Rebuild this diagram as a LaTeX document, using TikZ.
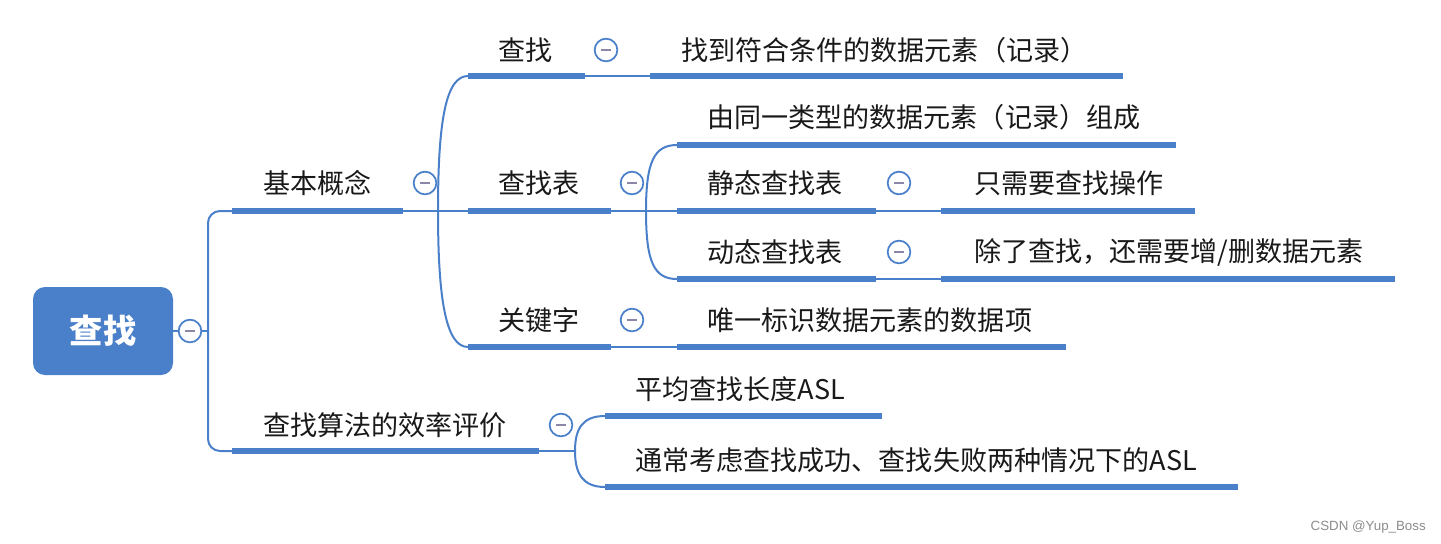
\documentclass[tikz,border=0pt]{standalone}
\usepackage{fontspec}
\setmainfont{Noto Sans CJK SC}
\newfontfamily\cjk{Noto Sans CJK SC}
\newfontfamily\wmfont{Liberation Sans}
\definecolor{mmblue}{HTML}{4A7FC9}
\definecolor{minusc}{HTML}{8C86A8}
\begin{document}
\begin{tikzpicture}[x=0.75pt,y=-0.75pt,
  bar/.style={line width=4pt, draw=mmblue},
  link/.style={line width=1.5pt, draw=mmblue},
  lbl/.style={anchor=west, inner sep=0pt, font=\cjk\fontsize{20.3}{23}\selectfont, text=black!90},
  fold/.style={circle, draw=mmblue, line width=1.3pt, fill=white, minimum size=17pt, inner sep=0pt,
    path picture={\draw[minusc, line width=1pt] ([xshift=-3.5pt]path picture bounding box.center) -- ([xshift=3.5pt]path picture bounding box.center);}},
  rootbox/.style={rectangle, rounded corners=9pt, fill=mmblue, minimum width=105pt, minimum height=66pt,
    text=white, font=\cjk\bfseries\fontsize{25}{28}\selectfont}
]
\useasboundingbox (0,0) rectangle (1441,543);

% root
\node[rootbox] (root) at (103,331) {查找};
\coordinate (tr) at (208,331);

% level 1
\node[lbl] (t1) at (263,183) {基本概念};
\coordinate (b1s) at (232,211); \coordinate (b1e) at (403,211);
\node[lbl] (t2) at (263,425) {查找算法的效率评价};
\coordinate (b2s) at (232,451); \coordinate (b2e) at (539,451);

% level 2 under 基本概念
\node[lbl] (s1) at (498,50) {查找};
\coordinate (s1s) at (468,76); \coordinate (s1e) at (585,76);
\node[lbl] (s2) at (498,183) {查找表};
\coordinate (s2s) at (468,211); \coordinate (s2e) at (611,211);
\node[lbl] (s3) at (498,320) {关键字};
\coordinate (s3s) at (468,347); \coordinate (s3e) at (611,347);
\coordinate (bp1) at (438,211);

% level 3
\node[lbl] (d1) at (681,50) {找到符合条件的数据元素（记录）};
\coordinate (d1s) at (650,76); \coordinate (d1e) at (1123,76);
\node[lbl] (e1) at (707,117) {由同一类型的数据元素（记录）组成};
\coordinate (e1s) at (677,145); \coordinate (e1e) at (1176,145);
\node[lbl] (e2) at (707,183) {静态查找表};
\coordinate (e2s) at (677,211); \coordinate (e2e) at (876,211);
\node[lbl] (e3) at (707,252) {动态查找表};
\coordinate (e3s) at (677,279); \coordinate (e3e) at (876,279);
\coordinate (bp2) at (646,211);
\node[lbl] (g1) at (974,183) {只需要查找操作};
\coordinate (g1s) at (941,211); \coordinate (g1e) at (1195,211);
\node[lbl] (g2) at (974,252) {除了查找，还需要增/删数据元素};
\coordinate (g2s) at (941,279); \coordinate (g2e) at (1395,279);
\node[lbl] (h1) at (707,320) {唯一标识数据元素的数据项};
\coordinate (h1s) at (677,347); \coordinate (h1e) at (1066,347);

% under 效率评价
\node[lbl] (k1) at (635,389) {平均查找长度ASL};
\coordinate (k1s) at (605,416); \coordinate (k1e) at (882,416);
\node[lbl] (k2) at (635,460) {通常考虑查找成功、查找失败两种情况下的ASL};
\coordinate (k2s) at (605,487); \coordinate (k2e) at (1238,487);
\coordinate (bp3) at (575,451);

% thin connectors
\draw[link] (root.east) -- (tr);
\draw[link, rounded corners=9pt] (b1s) -| (tr) |- (b2s);
\draw[link] (b1e) -- (s2s);
\draw[link] (bp1) .. controls (438,120) and (446,76) .. (s1s);
\draw[link] (bp1) .. controls (438,300) and (446,347) .. (s3s);
\draw[link] (s1e) -- (d1s);
\draw[link] (s2e) -- (e2s);
\draw[link] (bp2) .. controls (646,162) and (654,145) .. (e1s);
\draw[link] (bp2) .. controls (646,262) and (654,279) .. (e3s);
\draw[link] (e2e) -- (g1s);
\draw[link] (e3e) -- (g2s);
\draw[link] (s3e) -- (h1s);
\draw[link] (b2e) -- (bp3);
\draw[link] (bp3) .. controls (575,428) and (583,416) .. (k1s);
\draw[link] (bp3) .. controls (575,474) and (583,487) .. (k2s);

% underline bars
\foreach \a/\b in {b1s/b1e,b2s/b2e,s1s/s1e,s2s/s2e,s3s/s3e,d1s/d1e,e1s/e1e,e2s/e2e,e3s/e3e,g1s/g1e,g2s/g2e,h1s/h1e,k1s/k1e,k2s/k2e}
  \draw[bar] (\a) -- (\b);

% fold circles
\node[fold] (rc) at (190,331) {};
\node[fold] (f1) at (425,183) {};
\node[fold] (f2) at (561,425) {};
\node[fold] (fs1) at (606,50) {};
\node[fold] (fs2) at (632,183) {};
\node[fold] (fs3) at (632,320) {};
\node[fold] (fe2) at (899,183) {};
\node[fold] (fe3) at (899,252) {};

% watermark
\node[anchor=east, inner sep=0pt, font=\wmfont\fontsize{10}{12}\selectfont, text=black!45] (wm) at (1426,527) {CSDN @Yup\_Boss};
\end{tikzpicture}
\end{document}
